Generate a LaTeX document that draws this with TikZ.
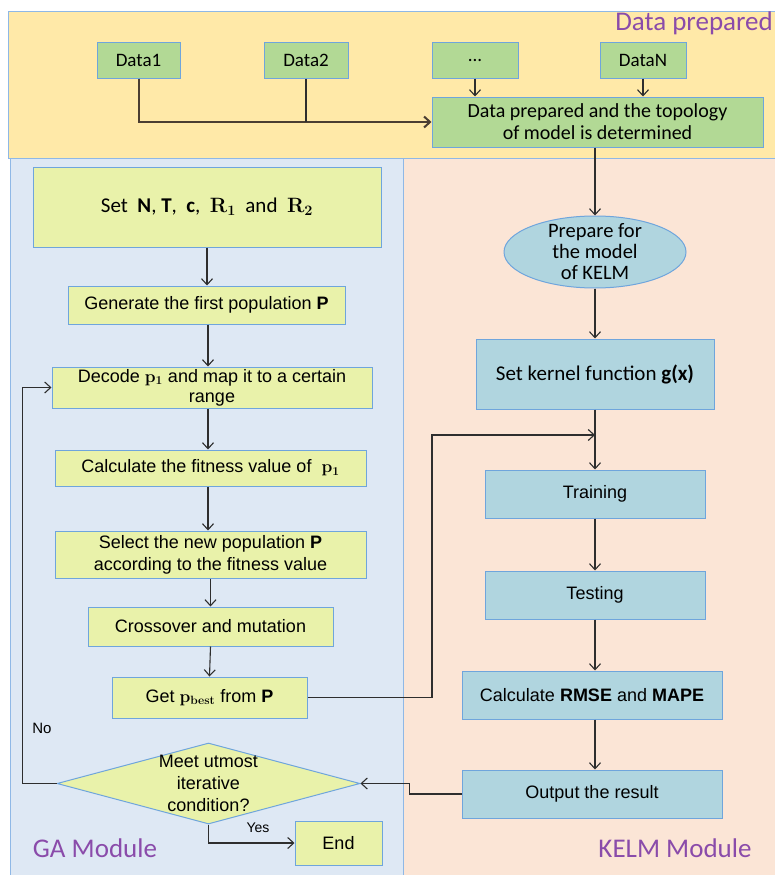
\documentclass[tikz,border=0pt]{standalone}
\usepackage[no-math]{fontspec}
\setmainfont{Liberation Sans}
\newfontfamily\calfont{Carlito}
\usetikzlibrary{shapes.geometric,arrows.meta}
\definecolor{topf}{HTML}{FFE9A8}
\definecolor{leftf}{HTML}{DEE8F4}
\definecolor{rightf}{HTML}{FBE5D6}
\definecolor{panelb}{HTML}{8FB8E6}
\definecolor{boxb}{HTML}{6FA5DC}
\definecolor{greenf}{HTML}{B2D995}
\definecolor{yellowf}{HTML}{E9F2AA}
\definecolor{bluef}{HTML}{B0D5DF}
\definecolor{purp}{HTML}{8A4BAA}
\definecolor{linec}{HTML}{2E2E2E}
\begin{document}
\begin{tikzpicture}[x=1pt,y=-1pt,
 arr/.style={draw=linec, line width=1.1pt, -{Straight Barb[length=6pt,width=11pt]}},
 ln/.style={draw=linec, line width=1.1pt},
 boxbase/.style={draw=boxb, line width=1pt, inner sep=0pt, align=center},
 gbox/.style={boxbase, fill=greenf, font=\calfont\fontsize{19}{22}\selectfont, minimum height=35pt},
 ybox/.style={boxbase, fill=yellowf, font=\fontsize{18}{22}\selectfont},
 bbox/.style={boxbase, fill=bluef, font=\fontsize{18}{22}\selectfont},
 lab/.style={font=\calfont\fontsize{27}{30}\selectfont, text=purp, inner sep=0pt}
]
\useasboundingbox (0,0) rectangle (774,875);
% panels
\path[fill=topf, draw=panelb, line width=1pt] (8,12) rectangle (780,158);
\path[fill=leftf, draw=panelb, line width=1pt] (10,158) rectangle (403,880);
\path[fill=rightf, draw=panelb, line width=1pt] (403,158) rectangle (780,880);

% labels
\node[lab, anchor=east] (ldp) at (773,23) {Data prepared};
\node[lab] (lga) at (95,848) {GA Module};
\node[lab] (lkelm) at (675,848) {KELM Module};

% data prepared region
\node[gbox, minimum width=83pt] (d1) at (138.5,60.5) {Data1};
\node[gbox, minimum width=84pt] (d2) at (306,60.5) {Data2};
\node[gbox, minimum width=86pt] (dd) at (475,60.5) {...};
\node[gbox, minimum width=86pt] (dn) at (643,60.5) {DataN};
\node[gbox, minimum width=331pt, minimum height=50pt, font=\calfont\fontsize{20}{22}\selectfont] (prep) at (597.5,122) {Data prepared and the topology\\of model is determined};

% KELM column
\node[ellipse, draw=boxb, line width=1pt, fill=bluef, minimum width=182pt, minimum height=72pt, inner sep=0pt] (ell) at (595,252) {};
\node[font=\calfont\fontsize{20.5}{21}\selectfont, align=center, inner sep=0pt] (ellt) at (ell.center) {Prepare for\\the model\\of KELM};
\node[bbox, minimum width=238pt, minimum height=70pt, font=\calfont\fontsize{21}{24}\selectfont] (ker) at (595,374) {Set kernel function \textbf{g(x)}};
\node[bbox, minimum width=220pt, minimum height=48pt] (tr) at (595,494) {Training};
\node[bbox, minimum width=220pt, minimum height=48pt] (te) at (595,595) {Testing};
\node[bbox, minimum width=260pt, minimum height=48pt] (rm) at (592,695) {Calculate \textbf{RMSE} and \textbf{MAPE}};
\node[bbox, minimum width=260pt, minimum height=48pt] (out) at (592,794) {Output the result};

% GA column
\node[ybox, minimum width=348pt, minimum height=80pt, font=\calfont\fontsize{21}{24}\selectfont] (setn) at (207,207) {Set\ \ \textbf{N}, \textbf{T}, \ \textbf{c}, \ $\mathbf{R_1}$\ \ and\ \ $\mathbf{R_2}$};
\node[ybox, minimum width=277pt, minimum height=38pt] (gen) at (206.5,305) {Generate the first population \textbf{P}};
\node[ybox, minimum width=320pt, minimum height=41pt, font=\fontsize{18}{20}\selectfont] (dec) at (212,387.5) {Decode $\mathbf{p_1}$ and map it to a certain\\range};
\node[ybox, minimum width=311pt, minimum height=36pt] (fit) at (210.5,468) {Calculate the fitness value of \ $\mathbf{p_1}$};
\node[ybox, minimum width=311pt, minimum height=47pt] (sel) at (210.5,554.5) {Select the new population \textbf{P}\\according to the fitness value};
\node[ybox, minimum width=245pt, minimum height=39pt] (cro) at (210.5,626.5) {Crossover and mutation};
\node[ybox, minimum width=195pt, minimum height=41pt] (pb) at (209.5,697.5) {Get $\mathbf{p}_{\mathbf{best}}$ from \textbf{P}};
\node[diamond, draw=boxb, line width=1pt, fill=yellowf, minimum width=303pt, minimum height=81pt, inner sep=0pt] (cond) at (208.5,783.5) {};
\node[font=\fontsize{18}{22}\selectfont, align=center, inner sep=0pt] (condt) at (cond.center) {Meet utmost\\iterative\\condition?};
\node[ybox, minimum width=87pt, minimum height=44pt] (end) at (338.5,843) {End};
\node[font=\fontsize{15}{18}\selectfont, inner sep=0pt] (no) at (42,728) {No};
\node[font=\fontsize{14}{17}\selectfont, inner sep=0pt] (yes) at (258,828) {Yes};

% connectors: data prepared
\draw[draw=linec!80!brown, line width=2pt, -{Straight Barb[length=6pt,width=11pt]}] (d1.south) |- (prep.west);
\draw[ln] (d2.south) -- (d2.south |- prep.west);
\draw[arr] (dd.south) -- (dd.south |- prep.north);
\draw[arr] (dn.south) -- (dn.south |- prep.north);
\draw[arr] (ell.north |- prep.south) -- (ell.north);

% KELM flow
\draw[arr] (ell.south) -- (ker.north);
\draw[arr] (ker.south) -- (tr.north);
\draw[arr] (tr.south) -- (te.north);
\draw[arr] (te.south) -- (te.south |- rm.north);
\draw[arr] (te.south |- rm.south) -- (te.south |- out.north);
\coordinate (j) at (595,435);
\coordinate (turn) at (432,435);
\draw[arr] (pb.east) -| (turn) -- (j);
\draw[arr] (out.west) -- ++(-52,0) |- (cond.east);

% GA flow
\draw[arr] (setn.south) -- (setn.south |- gen.north);
\draw[arr] (gen.south -| 208,0) -- (208,0 |- dec.north);
\draw[arr] (208,0 |- dec.south) -- (208,0 |- fit.north);
\draw[arr] (208,0 |- fit.south) -- (208,0 |- sel.north);
\draw[arr] (sel.south) -- (cro.north);
\draw[arr] (cro.south) -- (pb.north);
\draw[arr] (cond.west) -- ++(-34,0) |- (dec.west);
\draw[arr] (cond.south) |- (end.west);
\end{tikzpicture}
\end{document}
